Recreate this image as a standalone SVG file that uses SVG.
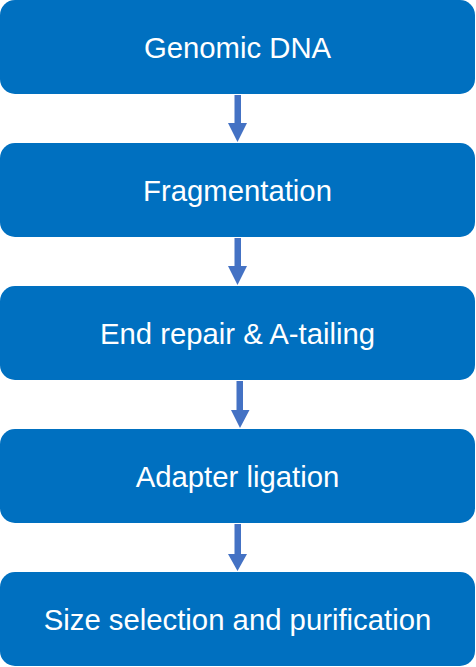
<svg xmlns="http://www.w3.org/2000/svg" width="476" height="667" viewBox="0 0 476 667">
<style>
.box{fill:#0070C0}
.lbl{font-family:"Liberation Sans",Arial,sans-serif;font-size:29.3px;fill:#ffffff;text-anchor:middle}
.shaft{fill:#4472C4}
</style>
<rect width="476" height="667" fill="#ffffff"/>
<g id="connectors">
<path class="shaft" d="M234.5,95 H241 V123 H247 L237.5,142 L228,123 H234.5 Z"/>
<path class="shaft" d="M234.5,238 H241 V266 H247 L237.5,285 L228,266 H234.5 Z"/>
<path class="shaft" d="M236.5,381 H243 V410 H249.5 L240,428 L231,410 H236.5 Z"/>
<path class="shaft" d="M234.5,524 H241 V554 H247 L237.5,571 L228,554 H234.5 Z"/>
</g>
<g id="node1"><rect class="box" x="0" y="0" width="475" height="94" rx="15"/><text class="lbl" x="237.5" y="57.5">Genomic DNA</text></g>
<g id="node2"><rect class="box" x="0" y="143" width="475" height="94" rx="15"/><text class="lbl" x="237.5" y="200.5">Fragmentation</text></g>
<g id="node3"><rect class="box" x="0" y="286" width="475" height="94" rx="15"/><text class="lbl" x="237.5" y="343.5">End repair &amp; A-tailing</text></g>
<g id="node4"><rect class="box" x="0" y="429" width="475" height="94" rx="15"/><text class="lbl" x="237.5" y="486.5">Adapter ligation</text></g>
<g id="node5"><rect class="box" x="0" y="572" width="475" height="94" rx="15"/><text class="lbl" x="237.5" y="629.5">Size selection and purification</text></g>
</svg>
